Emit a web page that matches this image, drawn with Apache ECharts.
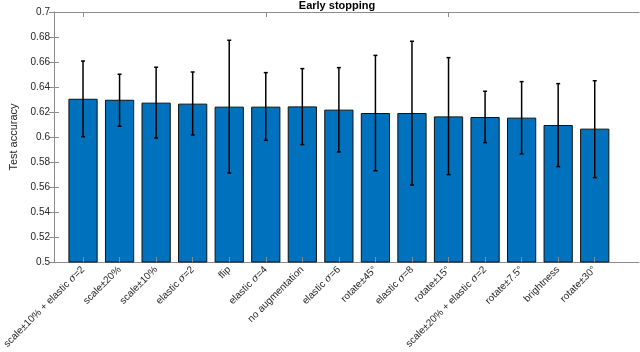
<!DOCTYPE html>
<html>
<head>
<meta charset="utf-8">
<script src="https://cdn.jsdelivr.net/npm/echarts@6/dist/echarts.min.js"></script>
<style>
  html, body { margin: 0; padding: 0; background: #fff; }
  #chart { width: 640px; height: 352px; }
</style>
</head>
<body>
<div id="chart"></div>
<script>
// ===== data =====
const categories = [
  'scale±10% + elastic σ=2', 'scale±20%', 'scale±10%', 'elastic σ=2', 'flip',
  'elastic σ=4', 'no augmentation', 'elastic σ=6', 'rotate±45°', 'elastic σ=8',
  'rotate±15°', 'scale±20% + elastic σ=2', 'rotate±7.5°', 'brightness', 'rotate±30°'
];
const accuracy = [0.6306, 0.6298, 0.6275, 0.6267, 0.6243, 0.6243, 0.6245, 0.6219, 0.6192, 0.6192, 0.6165, 0.6160, 0.6155, 0.6096, 0.6067];
const errUpper = [0.6608, 0.6502, 0.6558, 0.6520, 0.6774, 0.6515, 0.6547, 0.6555, 0.6653, 0.6766, 0.6635, 0.6366, 0.6443, 0.6427, 0.6450];
const errLower = [0.6002, 0.6086, 0.5992, 0.6016, 0.5712, 0.5973, 0.5939, 0.5880, 0.5730, 0.5616, 0.5699, 0.5955, 0.5865, 0.5763, 0.5675];
const yTicks = { min: 0.5, max: 0.7, step: 0.02 };

const font = "'Liberation Sans', Arial, Helvetica, sans-serif";
const axisGray = '#8c8c8c';
const textGray = '#262626';

const chart = echarts.init(document.getElementById('chart'), null, { renderer: 'canvas' });

// grid 0 = the box (frame + y labels), grid 1 = bars on a category axis
const frame = { left: 35, right: 1, top: 12, bottom: 90 };
const bars = { left: 61, right: 27, top: 12, bottom: 90 };

const errData = categories.map((c, i) => [i, errLower[i], errUpper[i]]);

chart.setOption({
  animation: false,
  title: {
    text: 'Early stopping',
    left: 337,
    top: 0,
    padding: 0,
    textAlign: 'center',
    textStyle: { fontFamily: font, fontSize: 11, fontWeight: 'bold', color: '#000' }
  },
  grid: [
    { ...frame, containLabel: false },
    { ...bars, containLabel: false }
  ],
  xAxis: [
    {
      gridIndex: 0, type: 'value', min: 0, max: 1, position: 'bottom',
      axisLine: { show: true, lineStyle: { color: axisGray, width: 1 } },
      axisTick: { show: false }, axisLabel: { show: false }, splitLine: { show: false }
    },
    {
      gridIndex: 0, type: 'value', min: 0, max: 1, position: 'top',
      axisLine: { show: true, lineStyle: { color: axisGray, width: 1 } },
      axisTick: { show: false }, axisLabel: { show: false }, splitLine: { show: false }
    },
    {
      gridIndex: 1, type: 'category', data: categories, position: 'bottom', z: 5,
      axisLine: { show: false },
      axisTick: { show: true, inside: true, length: 5, alignWithLabel: true, lineStyle: { color: axisGray } },
      axisLabel: {
        interval: 0, rotate: 45, margin: 6,
        fontFamily: font, fontSize: 10, color: textGray,
        formatter: v => v.replace('σ', '{s|σ}'),
        rich: { s: { fontFamily: "'DejaVu Serif', serif", fontStyle: 'italic', fontSize: 10, color: textGray } }
      }
    },
    {
      gridIndex: 1, type: 'category', data: categories, position: 'top', z: 5,
      axisLine: { show: false },
      axisTick: { show: true, inside: true, length: 5, alignWithLabel: true, lineStyle: { color: axisGray } },
      axisLabel: { show: false }
    }
  ],
  yAxis: [
    {
      gridIndex: 0, type: 'value', min: yTicks.min, max: yTicks.max, interval: yTicks.step,
      position: 'left',
      name: 'Test accuracy', nameLocation: 'middle', nameGap: 35,
      nameTextStyle: { fontFamily: font, fontSize: 11, color: textGray },
      axisLine: { show: true, lineStyle: { color: axisGray } },
      axisTick: { show: true, inside: true, length: 5, lineStyle: { color: axisGray } },
      axisLabel: { fontFamily: font, fontSize: 10, color: textGray, margin: 4 },
      splitLine: { show: false }
    },
    {
      gridIndex: 0, type: 'value', min: yTicks.min, max: yTicks.max, interval: yTicks.step,
      position: 'right',
      axisLine: { show: true, lineStyle: { color: axisGray } },
      axisTick: { show: true, inside: true, length: 5, lineStyle: { color: axisGray } },
      axisLabel: { show: false },
      splitLine: { show: false }
    },
    {
      gridIndex: 1, type: 'value', min: yTicks.min, max: yTicks.max, interval: yTicks.step,
      show: false
    }
  ],
  series: [
    {
      type: 'bar',
      xAxisIndex: 2,
      yAxisIndex: 2,
      data: accuracy,
      barWidth: '80%',
      itemStyle: { color: '#0072BD', borderColor: '#111', borderWidth: 1 }
    },
    {
      type: 'custom',
      xAxisIndex: 2,
      yAxisIndex: 2,
      z: 10,
      data: errData,
      renderItem: (params, api) => {
        const x = api.value(0);
        const lo = api.coord([x, api.value(1)]);
        const hi = api.coord([x, api.value(2)]);
        const cap = 2;
        const style = { stroke: '#000', lineWidth: 1.5 };
        return {
          type: 'group',
          children: [
            { type: 'line', shape: { x1: lo[0], y1: lo[1], x2: hi[0], y2: hi[1] }, style },
            { type: 'line', shape: { x1: hi[0] - cap, y1: hi[1], x2: hi[0] + cap, y2: hi[1] }, style },
            { type: 'line', shape: { x1: lo[0] - cap, y1: lo[1], x2: lo[0] + cap, y2: lo[1] }, style }
          ]
        };
      }
    }
  ]
});
</script>
</body>
</html>
